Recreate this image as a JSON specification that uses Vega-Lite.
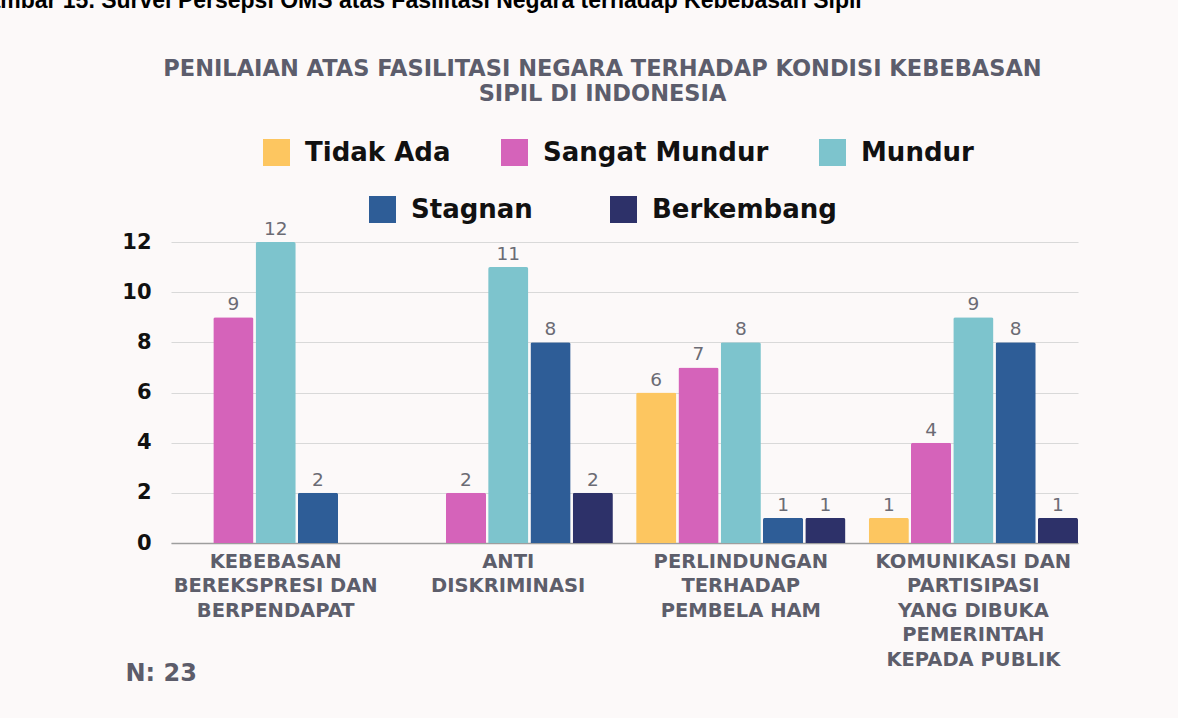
{
  "$schema": "https://vega.github.io/schema/vega-lite/v6.json",
  "width": 907,
  "height": 301,
  "autosize": {"type": "none"},
  "padding": {"left": 171, "top": 242, "right": 100, "bottom": 175},
  "background": "#FCF9F9",
  "title": {
    "text": ["PENILAIAN ATAS FASILITASI NEGARA TERHADAP KONDISI KEBEBASAN", "SIPIL DI INDONESIA"],
    "anchor": "middle",
    "frame": "group",
    "font": "DejaVu Sans",
    "fontSize": 22.5,
    "fontWeight": "bold",
    "color": "#5C5D6C",
    "lineHeight": 25.5,
    "dx": -22,
    "dy": 120.5
  },
  "config": {
    "view": {"stroke": null},
    "legend": {
      "symbolType": "square",
      "symbolSize": 729,
      "symbolStrokeWidth": 0,
      "labelFont": "DejaVu Sans",
      "labelFontSize": 26,
      "labelFontWeight": "bold",
      "labelColor": "#111111",
      "labelOffset": 15,
      "columnPadding": 53,
      "labelLimit": 400,
      "padding": 0
    }
  },
  "data": {
    "values": [
      {"aspek": "KEBEBASAN BEREKSPRESI DAN BERPENDAPAT", "kondisi": "Tidak Ada", "nilai": 0},
      {"aspek": "KEBEBASAN BEREKSPRESI DAN BERPENDAPAT", "kondisi": "Sangat Mundur", "nilai": 9},
      {"aspek": "KEBEBASAN BEREKSPRESI DAN BERPENDAPAT", "kondisi": "Mundur", "nilai": 12},
      {"aspek": "KEBEBASAN BEREKSPRESI DAN BERPENDAPAT", "kondisi": "Stagnan", "nilai": 2},
      {"aspek": "KEBEBASAN BEREKSPRESI DAN BERPENDAPAT", "kondisi": "Berkembang", "nilai": 0},
      {"aspek": "ANTI DISKRIMINASI", "kondisi": "Tidak Ada", "nilai": 0},
      {"aspek": "ANTI DISKRIMINASI", "kondisi": "Sangat Mundur", "nilai": 2},
      {"aspek": "ANTI DISKRIMINASI", "kondisi": "Mundur", "nilai": 11},
      {"aspek": "ANTI DISKRIMINASI", "kondisi": "Stagnan", "nilai": 8},
      {"aspek": "ANTI DISKRIMINASI", "kondisi": "Berkembang", "nilai": 2},
      {"aspek": "PERLINDUNGAN TERHADAP PEMBELA HAM", "kondisi": "Tidak Ada", "nilai": 6},
      {"aspek": "PERLINDUNGAN TERHADAP PEMBELA HAM", "kondisi": "Sangat Mundur", "nilai": 7},
      {"aspek": "PERLINDUNGAN TERHADAP PEMBELA HAM", "kondisi": "Mundur", "nilai": 8},
      {"aspek": "PERLINDUNGAN TERHADAP PEMBELA HAM", "kondisi": "Stagnan", "nilai": 1},
      {"aspek": "PERLINDUNGAN TERHADAP PEMBELA HAM", "kondisi": "Berkembang", "nilai": 1},
      {"aspek": "KOMUNIKASI DAN PARTISIPASI YANG DIBUKA PEMERINTAH KEPADA PUBLIK", "kondisi": "Tidak Ada", "nilai": 1},
      {"aspek": "KOMUNIKASI DAN PARTISIPASI YANG DIBUKA PEMERINTAH KEPADA PUBLIK", "kondisi": "Sangat Mundur", "nilai": 4},
      {"aspek": "KOMUNIKASI DAN PARTISIPASI YANG DIBUKA PEMERINTAH KEPADA PUBLIK", "kondisi": "Mundur", "nilai": 9},
      {"aspek": "KOMUNIKASI DAN PARTISIPASI YANG DIBUKA PEMERINTAH KEPADA PUBLIK", "kondisi": "Stagnan", "nilai": 8},
      {"aspek": "KOMUNIKASI DAN PARTISIPASI YANG DIBUKA PEMERINTAH KEPADA PUBLIK", "kondisi": "Berkembang", "nilai": 1}
    ]
  },
  "encoding": {
    "x": {
      "field": "aspek",
      "type": "nominal",
      "sort": null,
      "scale": {"paddingInner": 0.1, "paddingOuter": 0},
      "axis": {
        "title": "N: 23",
        "titleX": -46,
        "titleY": 137,
        "titleAlign": "left",
        "titleBaseline": "alphabetic",
        "titleFont": "DejaVu Sans",
        "titleFontSize": 24,
        "titleFontWeight": "bold",
        "titleColor": "#5C5C6A",
        "labelAngle": 0,
        "labelFont": "DejaVu Sans",
        "labelFontSize": 19.5,
        "labelFontWeight": "bold",
        "labelColor": "#5D5E6B",
        "labelLineHeight": 24.5,
        "labelPadding": 9,
        "labelBaseline": "top",
        "labelLimit": 400,
        "ticks": false,
        "domainColor": "#9E9E9E",
        "domainWidth": 1.5,
        "labelExpr": "datum.value == 'KEBEBASAN BEREKSPRESI DAN BERPENDAPAT' ? ['KEBEBASAN', 'BEREKSPRESI DAN', 'BERPENDAPAT'] : datum.value == 'ANTI DISKRIMINASI' ? ['ANTI', 'DISKRIMINASI'] : datum.value == 'PERLINDUNGAN TERHADAP PEMBELA HAM' ? ['PERLINDUNGAN', 'TERHADAP', 'PEMBELA HAM'] : ['KOMUNIKASI DAN', 'PARTISIPASI', 'YANG DIBUKA', 'PEMERINTAH', 'KEPADA PUBLIK']"
      }
    },
    "xOffset": {
      "field": "kondisi",
      "type": "nominal",
      "scale": {"domain": ["Tidak Ada", "Sangat Mundur", "Mundur", "Stagnan", "Berkembang"], "paddingInner": 0.05, "paddingOuter": 0}
    },
    "y": {
      "field": "nilai",
      "type": "quantitative",
      "scale": {"domain": [0, 12], "nice": false},
      "axis": {
        "values": [0, 2, 4, 6, 8, 10, 12],
        "title": "Gambar 15. Survei Persepsi OMS atas Fasilitasi Negara terhadap Kebebasan Sipil",
        "titleAngle": 0,
        "titleX": -202,
        "titleY": -235,
        "titleAlign": "left",
        "titleBaseline": "alphabetic",
        "titleFont": "Liberation Sans",
        "titleFontSize": 23,
        "titleFontWeight": "bold",
        "titleColor": "#000000",
        "labelFont": "DejaVu Sans",
        "labelFontSize": 21,
        "labelFontWeight": "bold",
        "labelColor": "#111111",
        "labelPadding": 20,
        "ticks": false,
        "domain": false,
        "grid": true,
        "gridColor": "#D9D9D9",
        "gridWidth": 1
      }
    }
  },
  "layer": [
    {
      "transform": [{"filter": "indexof(['Tidak Ada', 'Sangat Mundur', 'Mundur'], datum.kondisi) >= 0"}],
      "mark": {"type": "bar", "cornerRadiusTopLeft": 2, "cornerRadiusTopRight": 2},
      "encoding": {
        "color": {
          "field": "kondisi",
          "type": "nominal",
          "scale": {"domain": ["Tidak Ada", "Sangat Mundur", "Mundur"], "range": ["#FDC660", "#D563BA", "#7DC4CD"]},
          "legend": {"title": null, "orient": "none", "direction": "horizontal", "legendX": 92, "legendY": -103, "columnPadding": 50}
        }
      }
    },
    {
      "transform": [{"filter": "indexof(['Stagnan', 'Berkembang'], datum.kondisi) >= 0"}],
      "mark": {"type": "bar", "cornerRadiusTopLeft": 2, "cornerRadiusTopRight": 2},
      "encoding": {
        "color": {
          "field": "kondisi",
          "type": "nominal",
          "scale": {"domain": ["Stagnan", "Berkembang"], "range": ["#2E5D97", "#2D3169"]},
          "legend": {"title": null, "orient": "none", "direction": "horizontal", "legendX": 198, "legendY": -46, "columnPadding": 77}
        }
      }
    },
    {
      "transform": [{"filter": "datum.nilai > 0"}],
      "mark": {"type": "text", "dy": -7, "baseline": "alphabetic", "font": "DejaVu Sans", "fontSize": 18.5, "color": "#6B6B74"},
      "encoding": {"text": {"field": "nilai", "type": "quantitative"}}
    }
  ],
  "resolve": {"scale": {"color": "independent"}}
}
